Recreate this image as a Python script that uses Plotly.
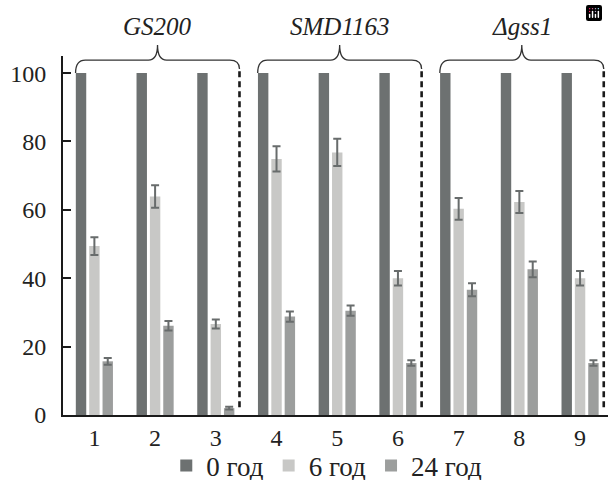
import plotly.graph_objects as go

# ---- data ----
categories = [1, 2, 3, 4, 5, 6, 7, 8, 9]
tick_labels = ["1", "2", "3", "4", "5", "6", "7", "8", "9"]
series_names = ["0 год", "6 год", "24 год"]
h0 = [100, 100, 100, 100, 100, 100, 100, 100, 100]
h6 = [49.4, 63.9, 26.6, 74.9, 76.8, 40.0, 60.3, 62.3, 40.0]
h6_err = [2.6, 3.3, 1.3, 3.7, 4.0, 2.1, 3.2, 3.2, 2.1]
h24 = [15.7, 26.1, 2.0, 28.8, 30.5, 15.2, 36.6, 42.6, 15.2]
h24_err = [1.0, 1.4, 0.4, 1.5, 1.5, 0.8, 1.9, 2.3, 0.8]
group_names = ["GS200", "SMD1163", "Δgss1"]
group_members = [[1, 2, 3], [4, 5, 6], [7, 8, 9]]

# ---- style ----
FONT = "Liberation Serif"
C_DARK = "#6d7171"
C_LIGHT = "#c8c8c6"
C_MID = "#9c9e9d"
C_ERR = "#686c6c"
XMIN, XMAX = 0.483, 9.46
YMIN, YMAX = 0, 105

fig = go.Figure()
fig.add_trace(go.Bar(x=categories, y=h0, name=series_names[0], marker=dict(color=C_DARK, line=dict(width=0))))
fig.add_trace(go.Bar(x=categories, y=h6, name=series_names[1], marker=dict(color=C_LIGHT, line=dict(width=0)),
                     error_y=dict(type="data", array=h6_err, color=C_ERR, thickness=2, width=4)))
fig.add_trace(go.Bar(x=categories, y=h24, name=series_names[2], marker=dict(color=C_MID, line=dict(width=0)),
                     error_y=dict(type="data", array=h24_err, color=C_ERR, thickness=2, width=4)))


def px(xd):
    return (xd - XMIN) / (XMAX - XMIN)


def py(yd):
    return (yd - YMIN) / (YMAX - YMIN)


shapes = []
annotations = []
for name, members in zip(group_names, group_members):
    left = members[0] - 0.31
    right = members[-1] + 0.39
    mid = (left + right) / 2
    r = 0.16
    tw = 0.15
    yh, yt, yl, yr = 103.8, 108.2, 100.0, 101.2
    path = (
        f"M {px(left)},{py(yl)} Q {px(left)},{py(yh)} {px(left + r)},{py(yh)} "
        f"L {px(mid - tw)},{py(yh)} Q {px(mid)},{py(yh)} {px(mid)},{py(yt)} "
        f"Q {px(mid)},{py(yh)} {px(mid + tw)},{py(yh)} "
        f"L {px(right - r)},{py(yh)} Q {px(right)},{py(yh)} {px(right)},{py(yr)}"
    )
    shapes.append(dict(type="path", xref="paper", yref="paper", path=path,
                       line=dict(color="#333333", width=1.3)))
    shapes.append(dict(type="line", xref="paper", yref="paper",
                       x0=px(right), x1=px(right), y0=py(2.3), y1=py(yr),
                       line=dict(color="#1a1a1a", width=2.6, dash="6px,4px")))
    annotations.append(dict(xref="paper", yref="paper", x=px(mid), y=py(113.6),
                            text=f"<i>{name}</i>", showarrow=False,
                            font=dict(family=FONT, size=25, color="#222222"),
                            xanchor="center", yanchor="middle"))

fig.update_layout(
    width=608, height=480,
    margin=dict(l=63, r=0, t=56, b=65, autoexpand=False),
    paper_bgcolor="white", plot_bgcolor="white",
    barmode="group", bargap=0.34, bargroupgap=0.22,
    shapes=shapes, annotations=annotations,
    showlegend=True,
    modebar=dict(bgcolor="rgba(0,0,0,0)", color="rgba(0,0,0,0)", activecolor="rgba(0,0,0,0)"),
    legend=dict(orientation="h", x=0.484, xanchor="center", y=1 - 466 / 480, yref="container",
                yanchor="middle", font=dict(family=FONT, size=27, color="#222222"),
                itemwidth=30, tracegroupgap=0, bgcolor="rgba(0,0,0,0)"),
)
fig.update_xaxes(range=[XMIN, XMAX], tickvals=categories, ticktext=tick_labels,
                 showline=True, linecolor="#1a1a1a", linewidth=2, ticks="",
                 showgrid=False, zeroline=False, fixedrange=True, automargin=False,
                 tickfont=dict(family=FONT, size=24, color="#222222"))
fig.update_yaxes(range=[YMIN, YMAX], tickvals=[0, 20, 40, 60, 80, 100],
                 showline=True, linecolor="#1a1a1a", linewidth=2,
                 ticks="inside", ticklen=8, tickwidth=1.5, tickcolor="#1a1a1a",
                 showgrid=False, zeroline=False, fixedrange=True, ticklabelstandoff=10,
                 automargin=False,
                 tickfont=dict(family=FONT, size=24, color="#222222"))

fig.write_html("out.html",
               post_script="document.body.style.margin='0';document.body.style.padding='0';")
